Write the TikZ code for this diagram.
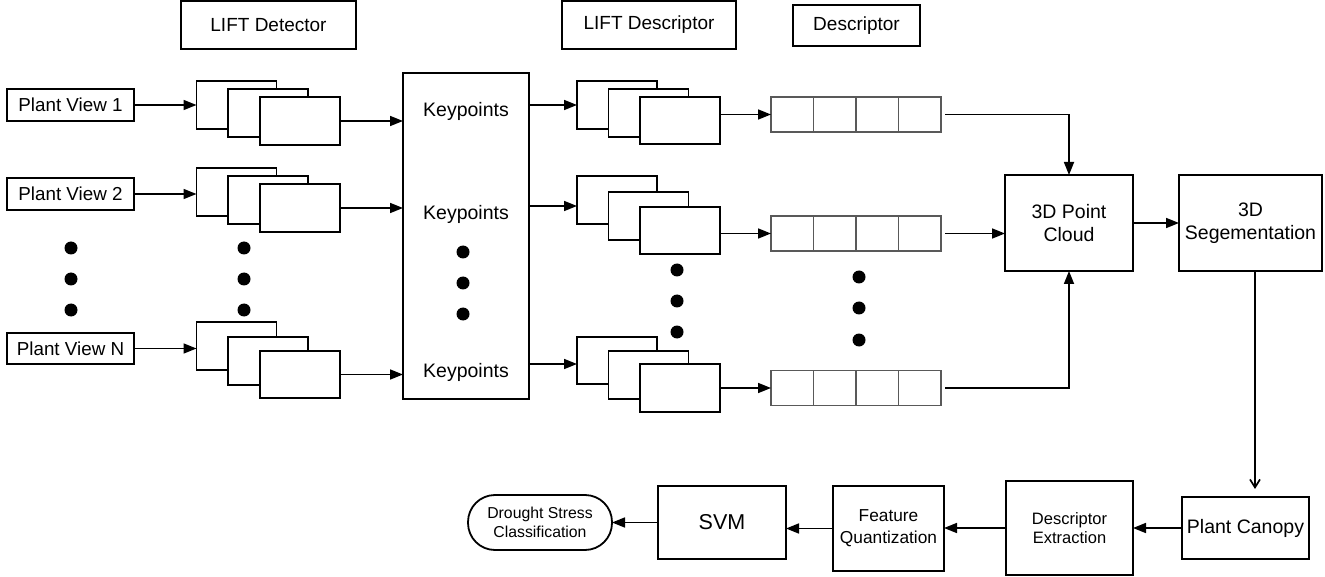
\documentclass[tikz,border=0pt]{standalone}
\usepackage{fontspec}
\setmainfont{Liberation Sans}
\usetikzlibrary{arrows.meta}
\tikzset{
  bx/.style={draw, line width=1.8pt, inner sep=0pt, outer sep=0pt, align=center, fill=white},
  cell/.style={draw=black!65, line width=1.8pt, inner sep=0pt, outer sep=0pt, minimum width=42.5pt, minimum height=35pt},
  fr/.style={bx, minimum width=80pt, minimum height=48pt},
  arr/.style={line width=1.7pt, -{Triangle[length=13pt,width=10pt]}},
  openarr/.style={line width=1.7pt, -{Straight Barb[length=8pt,width=10pt]}},
  bigdot/.style={circle, fill=black, inner sep=0pt, minimum size=13pt},
  lbl/.style={inner sep=0pt, align=center},
}
\begin{document}
\begin{tikzpicture}[x=1pt,y=-1pt]
\useasboundingbox (0,0) rectangle (1325,577);
% headers
\node[bx, minimum width=175pt, minimum height=48pt, font=\fontsize{19}{22}\selectfont] (hdet) at (268.5,25) {LIFT Detector};
\node[bx, minimum width=174pt, minimum height=48pt, font=\fontsize{19}{22}\selectfont] (hldesc) at (649,25) {LIFT Descriptor};
\node[bx, minimum width=127pt, minimum height=41pt, font=\fontsize{19}{22}\selectfont] (hdesc) at (856.5,25.5) {Descriptor};
% plant views
\node[bx, minimum width=127pt, minimum height=32pt, font=\fontsize{18.8}{21}\selectfont] (pv1) at (70.5,105) {Plant View 1};
\node[bx, minimum width=127pt, minimum height=32pt, font=\fontsize{18.8}{21}\selectfont] (pv2) at (70.5,194) {Plant View 2};
\node[bx, minimum width=127pt, minimum height=31pt, font=\fontsize{18.8}{21}\selectfont] (pvn) at (70.5,348.5) {Plant View N};
\node[bigdot] (ld1) at (71,248) {};
\node[bigdot] (ld2) at (71,279) {};
\node[bigdot] (ld3) at (71,310) {};
% detector stacks
\node[fr] (a1) at (236.5,105) {};
\node[fr] (b1) at (268,113) {};
\node[fr] (c1) at (300,121) {};
\node[fr] (a2) at (236.5,192) {};
\node[fr] (b2) at (268,200) {};
\node[fr] (c2) at (300,208) {};
\node[fr] (an) at (236.5,346) {};
\node[fr] (bn) at (268,361) {};
\node[fr, minimum height=47pt] (cn) at (300,374.5) {};
\node[bigdot] (sd1) at (244,248) {};
\node[bigdot] (sd2) at (244,279) {};
\node[bigdot] (sd3) at (244,310) {};
% keypoints
\node[bx, minimum width=126pt, minimum height=326pt] (kp) at (466,236) {};
\node[lbl, font=\fontsize{19.5}{22}\selectfont] (kt1) at (466,111) {Keypoints};
\node[lbl, font=\fontsize{19.5}{22}\selectfont] (kt2) at (466,214) {Keypoints};
\node[lbl, font=\fontsize{19.5}{22}\selectfont] (kt3) at (466,372) {Keypoints};
\node[bigdot] (kd1) at (463,252) {};
\node[bigdot] (kd2) at (463,283) {};
\node[bigdot] (kd3) at (463,314) {};
% descriptor stacks
\node[fr] (da1) at (617,105) {};
\node[fr] (db1) at (648.5,113) {};
\node[fr, minimum height=47pt] (dc1) at (680,120.5) {};
\node[fr] (da2) at (617,200) {};
\node[fr] (db2) at (648.5,216) {};
\node[fr, minimum height=47pt] (dc2) at (680,230.5) {};
\node[fr, minimum height=47pt] (da3) at (617,360.5) {};
\node[fr] (db3) at (648.5,375) {};
\node[fr] (dc3) at (680,388) {};
\node[bigdot] (dd1) at (677,270) {};
\node[bigdot] (dd2) at (677,301) {};
\node[bigdot] (dd3) at (677,332) {};
\coordinate (ka2) at ([yshift=-6pt]da2.west);
\coordinate (ka3) at ([yshift=-3.5pt]da3.west);
% descriptor rows
\foreach \r/\y in {1/114.5,2/233.5,3/388}{
  \node[cell] (r\r a) at (792.25,\y) {};
  \node[cell] (r\r b) at (834.75,\y) {};
  \node[cell] (r\r c) at (877.25,\y) {};
  \node[cell] (r\r d) at (919.75,\y) {};
}
\node[bigdot] (rd1) at (859,277) {};
\node[bigdot] (rd2) at (859,308) {};
\node[bigdot] (rd3) at (859,340) {};
% right part
\node[bx, minimum width=128pt, minimum height=96pt, font=\fontsize{19.5}{23}\selectfont] (pc) at (1069,223) {3D Point\\Cloud};
\node[bx, minimum width=143pt, minimum height=96pt, font=\fontsize{19.5}{23}\selectfont] (seg) at (1250.5,223) {3D\\Segementation};
\node[bx, minimum width=127pt, minimum height=62pt, font=\fontsize{19.5}{23}\selectfont] (can) at (1245.5,528) {Plant Canopy};
\node[bx, minimum width=127pt, minimum height=94pt, font=\fontsize{16.5}{19}\selectfont] (de) at (1069.5,528) {Descriptor\\Extraction};
\node[bx, minimum width=111pt, minimum height=85pt, font=\fontsize{17.3}{22}\selectfont] (fq) at (888.5,528.5) {Feature\\Quantization};
\node[bx, minimum width=128pt, minimum height=73pt, font=\fontsize{21.5}{24}\selectfont] (svm) at (722,522.5) {SVM};
\node[bx, minimum width=144pt, minimum height=55pt, rounded corners=27pt, font=\fontsize{15.8}{19}\selectfont] (dr) at (540,522.5) {Drought Stress\\Classification};
\coordinate (sgo) at ([xshift=4.5pt]seg.south);
% connectors
\draw[arr] (pv1.east) -- (a1.west |- pv1.east);
\draw[arr] (pv2.east) -- (a2.west |- pv2.east);
\draw[arr] (pvn.east) -- (an.west |- pvn.east);
\draw[arr] (c1.east) -- (kp.west |- c1.east);
\draw[arr] (c2.east) -- (kp.west |- c2.east);
\draw[arr] (cn.east) -- (kp.west |- cn.east);
\draw[arr] (kp.east |- da1.west) -- (da1.west);
\draw[arr] (kp.east |- ka2) -- (ka2);
\draw[arr] (kp.east |- ka3) -- (ka3);
\draw[arr] (dc1.east |- r1a.west) -- (r1a.west);
\draw[arr] (dc2.east |- r2a.west) -- (r2a.west);
\draw[arr] (dc3.east |- r3a.west) -- (r3a.west);
\draw[arr, shorten <=4pt] (r1d.east) -- (pc.north |- r1d.east) -- (pc.north);
\draw[arr, shorten <=4pt] (r2d.east) -- (pc.west |- r2d.east);
\draw[arr, shorten <=4pt] (r3d.east) -- (pc.south |- r3d.east) -- (pc.south);
\draw[arr] (pc.east) -- (seg.west);
\draw[openarr, shorten >=8pt] (sgo) -- (sgo |- can.north);
\draw[arr] (can.west) -- (de.east |- can.west);
\draw[arr] (de.west) -- (fq.east |- de.west);
\draw[arr] (fq.west) -- (svm.east |- fq.west);
\draw[arr] (svm.west) -- (dr.east);
\end{tikzpicture}
\end{document}
